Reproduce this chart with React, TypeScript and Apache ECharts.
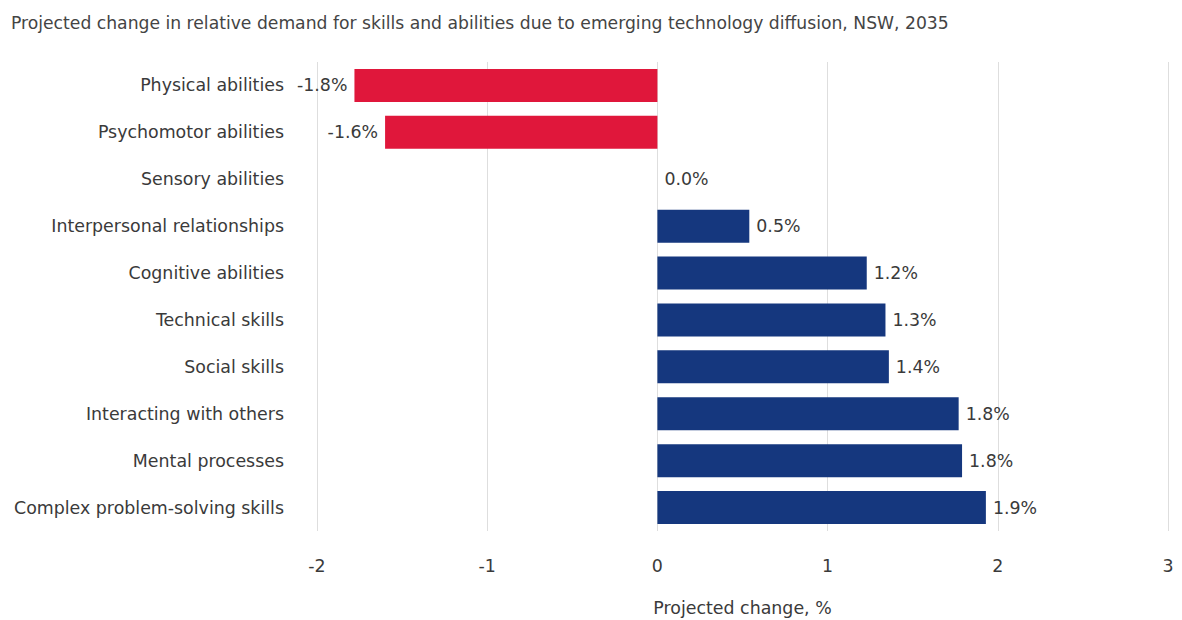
import React, { useEffect, useRef } from "react";
import * as echarts from "echarts";

const titleText =
  "Projected change in relative demand for skills and abilities due to emerging technology diffusion, NSW, 2035";
const categories = [
  "Physical abilities",
  "Psychomotor abilities",
  "Sensory abilities",
  "Interpersonal relationships",
  "Cognitive abilities",
  "Technical skills",
  "Social skills",
  "Interacting with others",
  "Mental processes",
  "Complex problem-solving skills",
];
const values = [-1.78, -1.6, 0.0, 0.54, 1.23, 1.34, 1.36, 1.77, 1.79, 1.93];
const xTicks = { min: -2, max: 3, interval: 1 };
const axisName = "Projected change, %";

const RED = "#E0173B";
const NAVY = "#15377E";
const FONT = "'DejaVu Sans', sans-serif";
const TEXT = "#3a3a3a";
const FS = 17.4;

export default function App() {
  const ref = useRef<HTMLDivElement>(null);
  useEffect(() => {
    if (!ref.current) return;
    const chart = echarts.init(ref.current, null, { renderer: "svg" });
    chart.setOption({
      animation: false,
      textStyle: { fontFamily: FONT },
      title: {
        text: titleText,
        left: 6,
        top: 9,
        textStyle: { fontSize: 17.2, fontWeight: "normal", color: "#444", fontFamily: FONT },
      },
      grid: {
        left: 317,
        right: 14,
        top: 62,
        bottom: 89,
        containLabel: false,
        outerBoundsMode: "none",
      },
      xAxis: {
        type: "value",
        min: xTicks.min,
        max: xTicks.max,
        interval: xTicks.interval,
        axisLine: { show: false },
        axisTick: { show: false },
        splitLine: { show: true, lineStyle: { color: "#dedede", width: 1 } },
        axisLabel: { color: TEXT, fontSize: FS, margin: 26, fontFamily: FONT },
        name: axisName,
        nameLocation: "middle",
        nameGap: 68,
        nameTextStyle: { color: TEXT, fontSize: FS, fontFamily: FONT },
      },
      yAxis: {
        type: "category",
        data: categories,
        inverse: true,
        axisLine: { show: false },
        axisTick: { show: false },
        splitLine: { show: false },
        axisLabel: { color: TEXT, fontSize: FS, margin: 33, fontFamily: FONT },
      },
      series: [
        {
          type: "bar",
          barWidth: 33,
          data: values.map((v) => ({
            value: v,
            itemStyle: { color: v < 0 ? RED : NAVY },
            label: {
              show: true,
              position: v < 0 ? "left" : "right",
              distance: 7,
              formatter: () => `${v.toFixed(1)}%`,
              color: TEXT,
              fontSize: FS,
              fontFamily: FONT,
            },
          })),
        },
      ],
    });
    return () => chart.dispose();
  }, []);
  return (
    <div
      ref={ref}
      style={{ position: "fixed", left: 0, top: 0, width: 1182, height: 620, background: "#fff" }}
    />
  );
}
